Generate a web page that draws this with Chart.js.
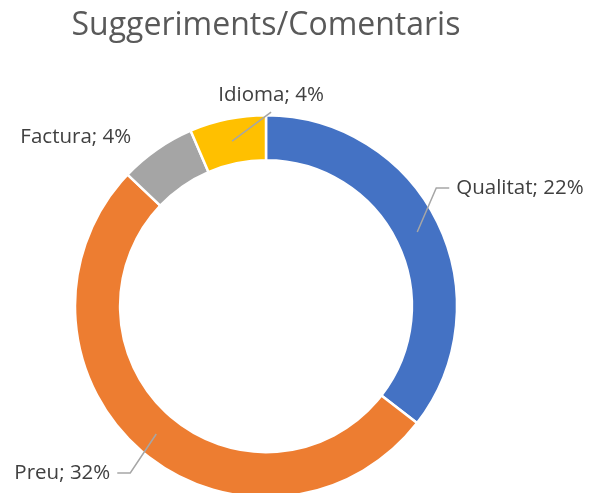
<!DOCTYPE html>
<html lang="ca">
<head>
    <meta charset="UTF-8">
    <title>Suggeriments/Comentaris</title>
    <script src="https://cdn.jsdelivr.net/npm/chart.js@4.4.1/dist/chart.umd.min.js"></script>
    <style>
        * { margin: 0; padding: 0; box-sizing: border-box; }
        body { background: #fff; width: 591px; height: 493px; overflow: hidden; }
        .wrap { position: relative; width: 591px; height: 493px; }
    </style>
</head>
<body>
    <div class="wrap">
        <canvas id="chart"></canvas>
    </div>

    <script>
        // dades
        const categories = ['Qualitat', 'Preu', 'Factura', 'Idioma'];
        const values = [22, 32, 4, 4];
        const percentLabels = ['22%', '32%', '4%', '4%'];
        const colors = ['#4472C4', '#ED7D31', '#A5A5A5', '#FFC000'];

        // posició de cada etiqueta respecte al centre del sector
        const labelLayout = [
            { dx: 39, dy: -44, align: 'left', leader: 'elbow' },
            { dx: -46, dy: 39, align: 'right', leader: 'elbow' },
            { dx: -94, dy: -31, align: 'center', leader: null },
            { dx: 39, dy: -46, align: 'center', leader: 'straight' }
        ];

        const labelFont = '20.5px "Open Sans", sans-serif';

        const outsideLabels = {
            id: 'outsideLabels',
            afterDatasetsDraw(chart) {
                const ctx = chart.ctx;
                const arcs = chart.getDatasetMeta(0).data;
                ctx.save();
                ctx.font = labelFont;
                ctx.textBaseline = 'middle';
                arcs.forEach((arc, i) => {
                    const p = arc.getCenterPoint();
                    const lay = labelLayout[i];
                    const tx = p.x + lay.dx;
                    const ty = p.y + lay.dy;
                    const text = categories[i] + '; ' + percentLabels[i];

                    ctx.strokeStyle = '#A6A6A6';
                    ctx.lineWidth = 1.5;
                    if (lay.leader === 'elbow') {
                        const dir = lay.align === 'left' ? -1 : 1;
                        ctx.beginPath();
                        ctx.moveTo(p.x, p.y);
                        ctx.lineTo(tx + dir * 20, ty);
                        ctx.lineTo(tx + dir * 7, ty);
                        ctx.stroke();
                    } else if (lay.leader === 'straight') {
                        ctx.beginPath();
                        ctx.moveTo(p.x, p.y);
                        ctx.lineTo(tx, ty + 17);
                        ctx.stroke();
                    }

                    ctx.fillStyle = '#404040';
                    ctx.textAlign = lay.align;
                    ctx.fillText(text, tx, ty);
                });
                ctx.restore();
            }
        };

        new Chart(document.getElementById('chart'), {
            type: 'doughnut',
            data: {
                labels: categories,
                datasets: [{
                    data: values,
                    backgroundColor: colors,
                    borderColor: '#ffffff',
                    borderWidth: 2.5
                }]
            },
            options: {
                responsive: true,
                maintainAspectRatio: false,
                animation: false,
                radius: 191,
                cutout: '76.4%',
                layout: { padding: { left: 0, right: 59, top: 0, bottom: 0 } },
                plugins: {
                    legend: { display: false },
                    tooltip: { enabled: false },
                    title: {
                        display: true,
                        text: 'Suggeriments/Comentaris',
                        color: '#595959',
                        font: { family: '"Open Sans", sans-serif', size: 32, weight: 'normal' },
                        padding: { top: 7, bottom: 74 }
                    }
                }
            },
            plugins: [outsideLabels]
        });
    </script>
</body>
</html>
